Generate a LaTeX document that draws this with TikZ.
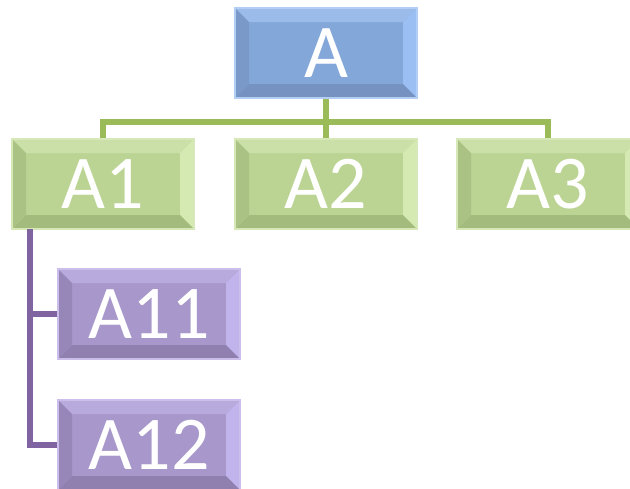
\documentclass[tikz,border=0pt]{standalone}
\usepackage{fontspec}
\setmainfont{Carlito}
\tikzset{
  bev main/.store in=\bevmain, bev top/.store in=\bevtop, bev right/.store in=\bevright,
  bev left/.store in=\bevleft, bev bottom/.store in=\bevbottom, bev border/.store in=\bevborder,
  box/.style={rectangle, inner sep=0pt, minimum width=182pt, minimum height=90pt,
    text=white, font=\fontsize{76}{76}\selectfont, line width=2.5pt,
    fill=\bevmain, draw=\bevborder,
    path picture={
      \coordinate (nw) at (path picture bounding box.north west);
      \coordinate (ne) at (path picture bounding box.north east);
      \coordinate (sw) at (path picture bounding box.south west);
      \coordinate (se) at (path picture bounding box.south east);
      \fill[\bevtop] (nw) -- (ne) -- ([xshift=-14pt,yshift=-14pt]ne) -- ([xshift=14pt,yshift=-14pt]nw) -- cycle;
      \fill[\bevright] (ne) -- (se) -- ([xshift=-14pt,yshift=14pt]se) -- ([xshift=-14pt,yshift=-14pt]ne) -- cycle;
      \fill[\bevbottom] (sw) -- (se) -- ([xshift=-14pt,yshift=14pt]se) -- ([xshift=14pt,yshift=14pt]sw) -- cycle;
      \fill[\bevleft] (nw) -- (sw) -- ([xshift=14pt,yshift=14pt]sw) -- ([xshift=14pt,yshift=-14pt]nw) -- cycle;
    }},
  bluebox/.style={bev main=blueM, bev top=blueT, bev right=blueR, bev left=blueL, bev bottom=blueB, bev border=blueE, box},
  greenbox/.style={bev main=greenM, bev top=greenT, bev right=greenR, bev left=greenL, bev bottom=greenB, bev border=greenE, box},
  purplebox/.style={bev main=purpM, bev top=purpT, bev right=purpR, bev left=purpL, bev bottom=purpB, bev border=purpE, box},
  gline/.style={draw=greenLine, line width=5.5pt},
  pline/.style={draw=purpLine, line width=5.5pt},
}
\definecolor{blueM}{HTML}{84A7DA}
\definecolor{blueT}{HTML}{9BBBEB}
\definecolor{blueR}{HTML}{9CBFF3}
\definecolor{blueL}{HTML}{7A98C8}
\definecolor{blueB}{HTML}{7592C0}
\definecolor{blueE}{HTML}{B3CEF4}
\definecolor{greenM}{HTML}{BCD493}
\definecolor{greenT}{HTML}{CBE0A8}
\definecolor{greenR}{HTML}{D5EAB2}
\definecolor{greenL}{HTML}{AAC283}
\definecolor{greenB}{HTML}{A3BB7C}
\definecolor{greenE}{HTML}{D6E8B8}
\definecolor{purpM}{HTML}{A797CA}
\definecolor{purpT}{HTML}{B8AADD}
\definecolor{purpR}{HTML}{C1B3EB}
\definecolor{purpL}{HTML}{9787B8}
\definecolor{purpB}{HTML}{8F80AF}
\definecolor{purpE}{HTML}{CBBEEA}
\definecolor{greenLine}{HTML}{9BBB59}
\definecolor{purpLine}{HTML}{8064A2}
\begin{document}
\begin{tikzpicture}[x=1pt,y=-1pt]
\useasboundingbox (0,0) rectangle (630,488);
\clip (0,0) rectangle (630,488);
\node[bluebox] (A) at (326,53) {A};
\node[greenbox] (A1) at (103,184) {A1};
\node[greenbox] (A2) at (326,184) {A2};
\node[greenbox] (A3) at (548,184) {A3};
\node[purplebox] (A11) at (149,314) {A11};
\node[purplebox] (A12) at (149,445) {A12};
\coordinate (g) at (326,122);
\coordinate (p) at (30,229);
\draw[gline] (A.south) -- (A2.north);
\draw[gline] (A1.north) |- (g) -| (A3.north);
\draw[pline] (p) |- (A12.west);
\draw[pline] (p |- A11.west) -- (A11.west);
\end{tikzpicture}
\end{document}
